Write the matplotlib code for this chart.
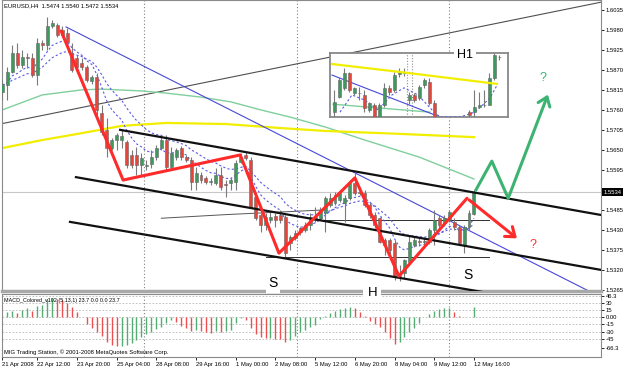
import numpy as np
import pandas as pd
import matplotlib
matplotlib.use("Agg")
import matplotlib.pyplot as plt

plt.rcParams['font.family'] = ['Liberation Sans', 'DejaVu Sans']

#EURUSD H4 candles, 21 Apr 2008 .. 12 May 2008 16:00

opens = [1.5809, 1.5828, 1.5864, 1.5916, 1.5883, 1.5905, 1.5902, 1.5856, 1.5944, 1.5938,
         1.5990, 1.5993, 1.5980, 1.5971, 1.5916, 1.5902, 1.5889, 1.5878, 1.5839, 1.5850,
         1.5751, 1.5705, 1.5655, 1.5677, 1.5677, 1.5672, 1.5636, 1.5636, 1.5608, 1.5606,
         1.5611, 1.5630, 1.5655, 1.5677, 1.5603, 1.5630, 1.5655, 1.5630, 1.5622, 1.5562,
         1.5581, 1.5573, 1.5562, 1.5559, 1.5581, 1.5556, 1.5559, 1.5562, 1.5617, 1.5636,
         1.5622, 1.5520, 1.5471, 1.5443, 1.5457, 1.5468, 1.5471, 1.5465, 1.5394, 1.5408,
         1.5435, 1.5430, 1.5443, 1.5457, 1.5462, 1.5476, 1.5498, 1.5504, 1.5512, 1.5504,
         1.5517, 1.5559, 1.5531, 1.5531, 1.5498, 1.5471, 1.5462, 1.5402, 1.5402, 1.5394,
         1.5311, 1.5311, 1.5342, 1.5388, 1.5399, 1.5397, 1.5397, 1.5430, 1.5462, 1.5449,
         1.5457, 1.5451, 1.5438, 1.5388, 1.5438, 1.5474]
highs = [1.5842, 1.5878, 1.5938, 1.5944, 1.5925, 1.5916, 1.5916, 1.5958, 1.5952, 1.6015,
         1.6007, 1.5999, 1.5990, 1.5985, 1.5944, 1.5911, 1.5902, 1.5883, 1.5856, 1.5861,
         1.5773, 1.5738, 1.5682, 1.5697, 1.5705, 1.5677, 1.5650, 1.5658, 1.5641, 1.5622,
         1.5650, 1.5663, 1.5691, 1.5691, 1.5658, 1.5655, 1.5661, 1.5636, 1.5630, 1.5603,
         1.5589, 1.5578, 1.5573, 1.5600, 1.5603, 1.5567, 1.5575, 1.5622, 1.5641, 1.5644,
         1.5630, 1.5526, 1.5476, 1.5476, 1.5479, 1.5476, 1.5485, 1.5471, 1.5416, 1.5430,
         1.5438, 1.5451, 1.5476, 1.5493, 1.5493, 1.5523, 1.5531, 1.5534, 1.5540, 1.5526,
         1.5567, 1.5586, 1.5545, 1.5540, 1.5504, 1.5479, 1.5465, 1.5408, 1.5408, 1.5402,
         1.5333, 1.5350, 1.5416, 1.5410, 1.5408, 1.5410, 1.5435, 1.5485, 1.5471, 1.5471,
         1.5485, 1.5462, 1.5443, 1.5443, 1.5485, 1.5540]
lows = [1.5787, 1.5787, 1.5861, 1.5875, 1.5875, 1.5875, 1.5850, 1.5828, 1.5925, 1.5925,
        1.5985, 1.5960, 1.5960, 1.5938, 1.5864, 1.5870, 1.5870, 1.5836, 1.5831, 1.5738,
        1.5691, 1.5630, 1.5650, 1.5650, 1.5655, 1.5600, 1.5600, 1.5581, 1.5581, 1.5595,
        1.5600, 1.5622, 1.5650, 1.5595, 1.5595, 1.5622, 1.5622, 1.5617, 1.5540, 1.5540,
        1.5559, 1.5556, 1.5553, 1.5553, 1.5540, 1.5520, 1.5540, 1.5540, 1.5614, 1.5622,
        1.5490, 1.5457, 1.5424, 1.5430, 1.5449, 1.5438, 1.5449, 1.5355, 1.5375, 1.5402,
        1.5416, 1.5424, 1.5430, 1.5451, 1.5457, 1.5424, 1.5493, 1.5498, 1.5506, 1.5451,
        1.5512, 1.5526, 1.5526, 1.5493, 1.5462, 1.5435, 1.5394, 1.5361, 1.5353, 1.5292,
        1.5289, 1.5297, 1.5333, 1.5383, 1.5386, 1.5388, 1.5391, 1.5388, 1.5435, 1.5440,
        1.5451, 1.5430, 1.5388, 1.5366, 1.5430, 1.5472]
closes = [1.5828, 1.5864, 1.5916, 1.5883, 1.5905, 1.5902, 1.5856, 1.5944, 1.5938, 1.5990,
          1.5999, 1.5966, 1.5966, 1.5946, 1.5870, 1.5878, 1.5878, 1.5842, 1.5850, 1.5760,
          1.5699, 1.5655, 1.5677, 1.5691, 1.5688, 1.5608, 1.5608, 1.5608, 1.5628, 1.5608,
          1.5630, 1.5655, 1.5677, 1.5603, 1.5641, 1.5650, 1.5630, 1.5622, 1.5562, 1.5586,
          1.5567, 1.5562, 1.5564, 1.5581, 1.5548, 1.5553, 1.5567, 1.5614, 1.5630, 1.5628,
          1.5493, 1.5462, 1.5443, 1.5465, 1.5465, 1.5457, 1.5457, 1.5366, 1.5410, 1.5421,
          1.5424, 1.5443, 1.5465, 1.5465, 1.5485, 1.5517, 1.5517, 1.5526, 1.5531, 1.5517,
          1.5559, 1.5531, 1.5534, 1.5498, 1.5471, 1.5443, 1.5397, 1.5388, 1.5375, 1.5300,
          1.5303, 1.5347, 1.5397, 1.5402, 1.5397, 1.5399, 1.5430, 1.5457, 1.5443, 1.5462,
          1.5479, 1.5438, 1.5394, 1.5438, 1.5476, 1.5534]

#MACD_Colored histogram, one value per bar

macd = [2, 12, 14, 10, 16, 20, 14, 25, 27, 40,
        42, 40, 37, 30, 22, 12, 2, -14, -22, -32,
        -40, -52, -58, -62, -61, -58, -54, -48, -42, -36,
        -30, -25, -20, -12, -6, -10, -18, -22, -28, -26,
        -29, -31, -33, -29, -31, -28, -26, -12, -2, -5,
        -22, -36, -42, -44, -43, -45, -46, -53, -48, -40,
        -30, -26, -20, -16, -4, 4, 10, 14, 18, 21,
        23, 20, 12, 4, -8, -14, -20, -32, -44, -56,
        -52, -42, -32, -22, -12, 2, 8, 14, 18, 20,
        21, 12, 3, 1, 0.5, 22]

#time axis

date_labels = ['21 Apr 2008', '22 Apr 12:00', '23 Apr 20:00', '25 Apr 04:00', '28 Apr 08:00',
               '29 Apr 16:00', '1 May 00:00', '2 May 08:00', '5 May 12:00', '6 May 20:00',
               '8 May 04:00', '9 May 12:00', '12 May 16:00']
date_bars = [0, 7, 15, 23, 31, 39, 47, 55, 63, 71, 79, 87, 95]
week_bars = [28.5, 59.3, 90.0]

price_ticks = [1.6035, 1.5980, 1.5925, 1.5870, 1.5815, 1.5760, 1.5705, 1.5650, 1.5595,
               1.5485, 1.5430, 1.5375, 1.5320, 1.5265]
macd_ticks = [46.3, 30, 15, 0, -15, -30, -45, -66.3]
macd_tick_labels = ['46.3', '30', '15', '0.00', '-15', '-30', '-45', '-66.3']

#slow moving averages at a few bars

green_ma_bars = [0, 8, 16, 20, 28, 33, 40, 46, 52, 58, 65, 73, 84, 95]
green_ma = [1.5760, 1.5801, 1.5815, 1.5817, 1.5812, 1.5806, 1.5795, 1.5782, 1.5760, 1.5740,
            1.5713, 1.5677, 1.5630, 1.5570]
yellow_ma_bars = [0, 8, 16, 24, 33, 45, 56, 65, 80, 95]
yellow_ma = [1.5655, 1.5677, 1.5696, 1.5716, 1.5724, 1.5721, 1.5710, 1.5702, 1.5694, 1.5685]
gray_ma_bars = [32, 45, 65]
gray_ma = [1.5462, 1.5472, 1.5485]

#hand drawn objects, (bar, price) anchors

chan_bars = [[23.7, 120.6], [14.8, 120.6], [13.6, 120.6]]
chan_prices = [[1.5705, 1.5471], [1.5575, 1.5320], [1.5452, 1.5204]]
blue_tl_bars = [12.8, 120.6]
blue_tl = [1.5988, 1.5245]
gray_tl_bars = [-0.5, 120.6]
gray_tl = [1.5721, 1.6056]
hline_bars = [[64, 98], [53, 98]]
hline_prices = [1.5457, 1.5356]
red_zz_bars = [11.8, 24.3, 47.9, 55.7, 71.0, 79.9, 93.6, 104.1]
red_zz = [1.5977, 1.5567, 1.5636, 1.5366, 1.5573, 1.5303, 1.5517, 1.5402]
green_zz_bars = [95.4, 98.6, 101.9, 110.1]
green_zz = [1.5540, 1.5619, 1.5517, 1.5809]

#H1 inset candles (nan = below the inset frame)

nan = np.nan
in_open = [1.5411, 1.5445, 1.5466, 1.5500, 1.5454, 1.5454, 1.5450, 1.5416, 1.5427, 1.5400,
           1.5427, 1.5466, 1.5461, 1.5497, 1.5500, 1.5438, 1.5450, 1.5443, 1.5472, 1.5479,
           1.5431, nan, nan, nan, nan, nan, nan, 1.5411, 1.5411, 1.5422,
           1.5427, 1.5427, 1.5488, 1.5536]
in_high = [1.5461, 1.5491, 1.5511, 1.5502, 1.5468, 1.5468, 1.5461, 1.5434, 1.5431, 1.5431,
           1.5477, 1.5472, 1.5502, 1.5511, 1.5511, 1.5456, 1.5454, 1.5472, 1.5488, 1.5488,
           1.5438, nan, nan, nan, nan, nan, nan, 1.5416, 1.5461, 1.5456,
           1.5461, 1.5500, 1.5545, 1.5540]
in_low = [1.5400, 1.5443, 1.5461, 1.5456, 1.5450, 1.5438, 1.5411, 1.5411, 1.5393, 1.5393,
          1.5422, 1.5450, 1.5456, 1.5491, 1.5493, 1.5429, 1.5434, 1.5438, 1.5466, 1.5427,
          1.5393, nan, nan, nan, nan, nan, nan, 1.5400, 1.5400, 1.5420,
          1.5422, 1.5427, 1.5484, 1.5529]
in_close = [1.5434, 1.5484, 1.5500, 1.5461, 1.5466, 1.5454, 1.5420, 1.5431, 1.5400, 1.5427,
            1.5466, 1.5456, 1.5495, 1.5502, 1.5502, 1.5450, 1.5438, 1.5468, 1.5484, 1.5431,
            1.5400, nan, nan, nan, nan, nan, nan, 1.5404, 1.5422, 1.5427,
            1.5427, 1.5488, 1.5540, 1.5536]
in_yellow_bars = [-0.4, 13.2, 32.6]
in_yellow = [1.5520, 1.5502, 1.5475]
in_blue_bars = [-0.4, 21.2]
in_blue = [1.5495, 1.5400]
in_green_bars = [-0.2, 19.2]
in_green = [1.5429, 1.5411]
in_dash_bars = [1.2, 3.6, 6.2, 8.8, 11.6, 14, 16.8, 19.6, 21.2, 25.2, 28.2, 31.2, 32.6]
in_dash = [1.5411, 1.5450, 1.5438, 1.5416, 1.5450, 1.5466, 1.5450, 1.5416, 1.5400, 1.5400,
           1.5411, 1.5443, 1.5472]
in_sep_bars = [14.6, 15.6]

GREEN = '#3b9a5c'
RED = '#e8443a'
SMALL = 4.2
W, H = 625.0, 368.0


def rect(x0, y0, x1, y1):
    return [x0 / W, 1 - y1 / H, (x1 - x0) / W, (y1 - y0) / H]


def draw_candles(a, o, h, l, c, width=0.6):
    o, h, l, c = (np.asarray(v, dtype=float) for v in (o, h, l, c))
    xs = np.arange(len(o))
    ok = ~np.isnan(o)
    xs, o, h, l, c = xs[ok], o[ok], h[ok], l[ok], c[ok]
    lo, hi = a.get_ylim()
    a.vlines(xs, l, h, color='#7a7a7a', lw=0.8, zorder=4)
    body = np.maximum(np.abs(c - o), (hi - lo) * 0.002)
    cols = np.where(c >= o, GREEN, RED)
    a.bar(xs, body, width, np.minimum(o, c), color=cols, edgecolor='#666666',
          lw=0.4, zorder=5)


fig = plt.figure(figsize=(6.25, 3.68), dpi=100)
ax = fig.add_axes(rect(2, 0, 601, 291))
axm = fig.add_axes(rect(2, 294, 601, 357))
axi = fig.add_axes(rect(330, 53, 508, 117))

n = len(closes)
x = np.arange(n)

#main price window

ax.set_xlim(-0.1, 120.6)
ax.set_ylim(1.5262, 1.6062)

ax.axhline(closes[-1], color='#c8c8c8', lw=0.8, zorder=1)
for b in week_bars:
    ax.axvline(b, color='#808080', lw=0.8, ls=(0, (1, 2)), zorder=1)

ax.plot(gray_tl_bars, gray_tl, color='#505050', lw=0.8, zorder=2)
ax.plot(green_ma_bars, green_ma, color='#7fcf9c', lw=1.0, zorder=2)
ax.plot(yellow_ma_bars, yellow_ma, color='#f2ee00', lw=1.6, zorder=2)
ax.plot(gray_ma_bars, gray_ma, color='#555555', lw=0.7, zorder=2)
for bb, pp in zip(hline_bars, hline_prices):
    ax.plot(bb, [pp, pp], color='#303030', lw=0.7, zorder=2)
ax.plot(blue_tl_bars, blue_tl, color='#4848d8', lw=0.8, zorder=2)

cl = pd.Series(closes)
ax.plot(x, cl.ewm(span=8, adjust=False).mean(), color='#5a5ae6', lw=0.8,
        ls=(0, (2, 2)), zorder=3)
ax.plot(x, cl.ewm(span=16, adjust=False).mean(), color='#5a5ae6', lw=0.8,
        ls=(0, (2, 2)), zorder=3)

for bb, pp in zip(chan_bars, chan_prices):
    ax.plot(bb, pp, color='#111111', lw=1.6, zorder=6)

draw_candles(ax, opens, highs, lows, closes)

ax.plot(red_zz_bars[:-1], red_zz[:-1], color='#ff2a2a', lw=2.2, zorder=7,
        solid_capstyle='round')
ax.annotate('', xy=(red_zz_bars[-1], red_zz[-1]), xytext=(red_zz_bars[-2], red_zz[-2]),
            arrowprops=dict(arrowstyle='->,head_length=0.6,head_width=0.45',
                            color='#ff2a2a', lw=2.2), zorder=7)
ax.plot(green_zz_bars[:-1], green_zz[:-1], color='#3cb371', lw=2.2, zorder=7)
ax.annotate('', xy=(green_zz_bars[-1], green_zz[-1]),
            xytext=(green_zz_bars[-2], green_zz[-2]),
            arrowprops=dict(arrowstyle='->,head_length=0.6,head_width=0.45',
                            color='#3cb371', lw=2.2), zorder=7)

box = dict(fc='white', ec='none', pad=2)
ax.text(54.5, 1.5284, 'S', fontsize=10, ha='center', va='center', bbox=box, zorder=8)
ax.text(93.8, 1.5306, 'S', fontsize=10, ha='center', va='center', bbox=box, zorder=8)
ax.text(106.9, 1.5388, '?', fontsize=9, color='#ff3030', ha='center', va='center',
        bbox=box, zorder=8)
ax.text(108.9, 1.5848, '?', fontsize=9, color='#3cb371', ha='center', va='center',
        bbox=box, zorder=8)
fig.text(74.5, 1.5256, 'H', transform=ax.transData, fontsize=9.5, ha='center',
         va='center', bbox=dict(fc='white', ec='none', pad=3))
fig.text(93.2, 1.5911, 'H1', transform=ax.transData, fontsize=9, ha='center',
         va='center', bbox=dict(fc='white', ec='none', pad=2))

ax.text(0.004, 0.988, 'EURUSD,H4  1.5474 1.5540 1.5472 1.5534', transform=ax.transAxes,
        fontsize=SMALL, va='top', ha='left')

ax.yaxis.tick_right()
ax.set_yticks(price_ticks)
ax.set_yticklabels([f'{p:.4f}' for p in price_ticks], fontsize=SMALL)
ax.tick_params(axis='y', length=2, width=0.6, pad=1.5)
ax.set_xticks([])
ax.text(1.004, closes[-1], f'{closes[-1]:.4f}', transform=ax.get_yaxis_transform(),
        fontsize=SMALL, color='white', va='center', ha='left',
        bbox=dict(fc='black', ec='none', pad=0.8), clip_on=False)
for s in ax.spines.values():
    s.set_color('#8a8a8a')
    s.set_linewidth(0.8)
ax.spines['bottom'].set_color('#a8a8a8')
ax.spines['bottom'].set_linewidth(2.5)

#MACD window

axm.set_xlim(ax.get_xlim())
axm.set_ylim(-84.6, 50.3)
m = np.asarray(macd, dtype=float)
rising = np.r_[True, m[1:] > m[:-1]]
axm.vlines(x, 0, m, colors=np.where(rising, '#55ad74', '#ee5050'), lw=1.0, zorder=3)
for lv in [46.3, 30, 15, 0, -15, -30, -45]:
    axm.axhline(lv, color='#b8b8b8', lw=0.6, ls=(0, (2, 2)), zorder=1)
for b in week_bars:
    axm.axvline(b, color='#808080', lw=0.8, ls=(0, (1, 2)), zorder=1)
axm.text(0.004, 0.9, 'MACD_Colored_v102 (5,13,1) 23.7 0.0 0.0 23.7', transform=axm.transAxes,
         fontsize=3.9, va='center', ha='left')
axm.text(0.004, 0.08, 'MIG Trading Station, \u00a9 2001-2008 MetaQuotes Software Corp.',
         transform=axm.transAxes, fontsize=SMALL, va='center', ha='left')
axm.yaxis.tick_right()
axm.set_yticks(macd_ticks)
axm.set_yticklabels(macd_tick_labels, fontsize=SMALL)
axm.set_xticks(date_bars)
axm.set_xticklabels(date_labels, fontsize=SMALL, ha='left')
axm.tick_params(length=2, width=0.6, pad=1.5)
for s in axm.spines.values():
    s.set_color('#8a8a8a')
    s.set_linewidth(0.8)

#H1 inset

axi.set_xlim(-0.8, 34.8)
axi.set_ylim(1.5400, 1.5545)
for b in in_sep_bars:
    axi.axvline(b, color='#909090', lw=0.8, ls=(0, (1, 1.5)), zorder=1)
axi.plot(in_green_bars, in_green, color='#7fcf9c', lw=1.0, zorder=2)
axi.plot(in_blue_bars, in_blue, color='#4848d8', lw=0.8, zorder=2)
axi.plot(in_dash_bars, in_dash, color='#5a5ae6', lw=0.8, ls=(0, (2, 2)), zorder=3)
axi.plot(in_yellow_bars, in_yellow, color='#f2ee00', lw=1.6, zorder=6)
draw_candles(axi, in_open, in_high, in_low, in_close)
axi.set_xticks([])
axi.set_yticks([])
for s in axi.spines.values():
    s.set_color('#888888')
    s.set_linewidth(1.3)

fig.savefig('out.png', dpi=100)
